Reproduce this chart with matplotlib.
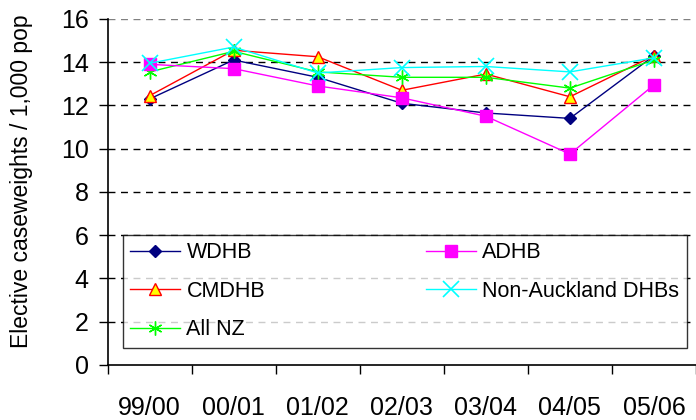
import matplotlib
matplotlib.use("Agg")
import matplotlib.pyplot as plt
import numpy as np

plt.rcParams["font.family"] = ["Liberation Sans", "DejaVu Sans"]

years = ["99/00", "00/01", "01/02", "02/03", "03/04", "04/05", "05/06"]
wdhb = [12.3, 14.1, 13.3, 12.1, 11.65, 11.4, 14.3]
adhb = [13.9, 13.7, 12.9, 12.35, 11.5, 9.75, 12.95]
cmdhb = [12.45, 14.55, 14.25, 12.7, 13.45, 12.4, 14.3]
non_auckland = [13.95, 14.7, 13.5, 13.75, 13.8, 13.55, 14.2]
all_nz = [13.55, 14.5, 13.55, 13.3, 13.3, 12.8, 14.1]

x = np.arange(len(years))

fig = plt.figure(figsize=(6.96, 4.2), dpi=100)
ax = fig.add_axes([0.1546, 0.131, 0.8454, 0.824])

asterisk = (6, 2, 0)
ax.plot(x, wdhb, color="#000080", lw=1.0, marker="D", ms=6, mfc="#000080", mec="#000080", label="WDHB", zorder=3)
ax.plot(x, cmdhb, color="#FF0000", lw=1.0, marker="^", ms=9, mfc="#FFFF00", mec="#FF0000", label="CMDHB", zorder=3)
ax.plot(x, all_nz, color="#00FF00", lw=1.0, marker=asterisk, ms=10, mec="#00FF00", label="All NZ", zorder=3)
ax.plot(x, adhb, color="#FF00FF", lw=1.0, marker="s", ms=8, mfc="#FF00FF", mec="#FF00FF", label="ADHB", zorder=3)
ax.plot(x, non_auckland, color="#00FFFF", lw=1.0, marker="x", ms=11, mew=1.2, mec="#00FFFF", label="Non-Auckland DHBs", zorder=3)

ax.set_xlim(-0.5, len(years) - 0.5)
ax.set_ylim(0, 16)
ax.set_yticks(np.arange(0, 17, 2))
ax.tick_params(axis="y", direction="out", length=6.5, width=1, labelsize=18, pad=7)

# category boundaries carry the ticks, labels sit at the centres
ax.set_xticks(np.arange(-0.5, len(years), 1.0))
ax.set_xticklabels([])
ax.set_xticks(x, minor=True)
ax.set_xticklabels(years, minor=True, fontsize=18)
ax.tick_params(axis="x", which="major", direction="out", length=6.5, width=1)
ax.tick_params(axis="x", which="minor", length=0, pad=22)

for v in range(2, 17, 2):
    ax.axhline(v, color="#808080" if v == 16 else "black", lw=1, ls=(0, (5, 4)), zorder=1)

for side in ["top", "right"]:
    ax.spines[side].set_visible(False)
ax.spines["left"].set_linewidth(1.2)
ax.spines["bottom"].set_linewidth(1.2)

ax.set_ylabel("Elective caseweights / 1,000 pop", fontsize=16.5)
ax.yaxis.set_label_coords(-0.127, 0.53)

leg = ax.legend(ncol=2, loc="lower left", bbox_to_anchor=(0.026, 0.049, 0.958, 0.338),
                mode="expand", fontsize=15.5, frameon=True, fancybox=False,
                edgecolor="black", handlelength=2.3, handletextpad=0.3,
                borderaxespad=0, labelspacing=0.82, borderpad=0.35)
leg.get_frame().set_linewidth(1)

fig.savefig("out.png", dpi=100)
